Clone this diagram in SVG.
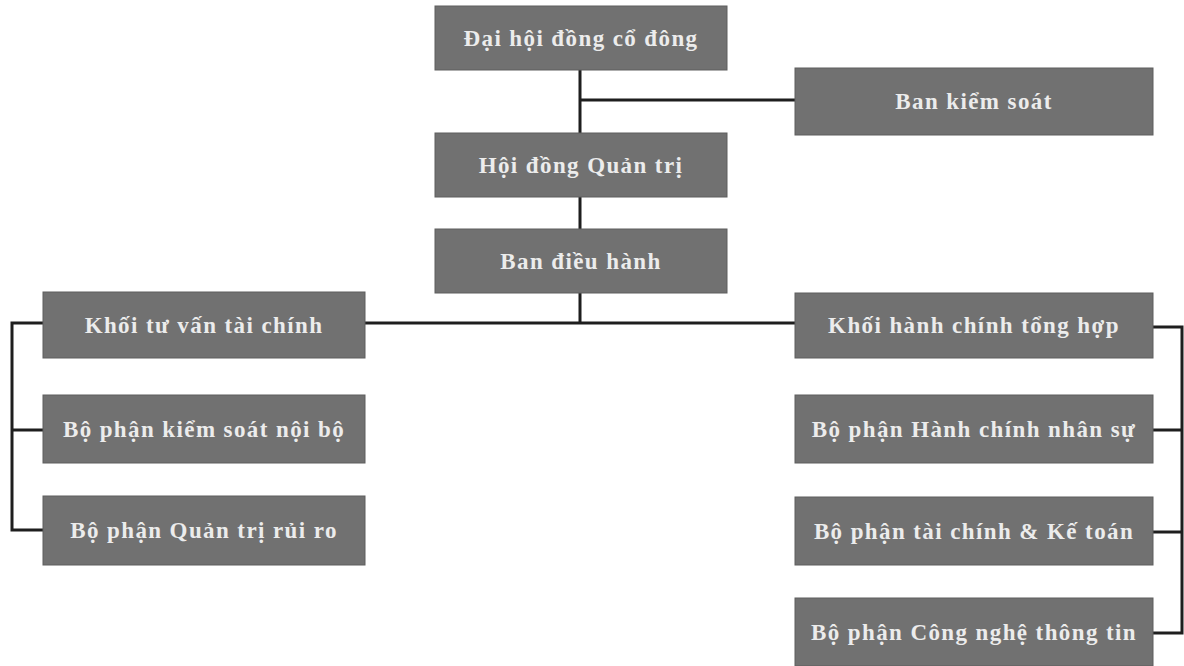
<svg xmlns="http://www.w3.org/2000/svg" width="1184" height="666" viewBox="0 0 1184 666">
<style>
.box{fill:#717171;stroke:#5e5e5e;stroke-width:1}
.lbl{font-family:"Liberation Serif","Times New Roman",serif;font-weight:bold;font-size:23px;fill:#ececec;text-anchor:middle;dominant-baseline:central;letter-spacing:1.4px}
.ln{stroke:#1e1e1e;stroke-width:3;fill:none}
</style>
<rect width="1184" height="666" fill="#ffffff"/>
<g id="connectors">
<path class="ln" d="M580 70V133M580 100H795M580 197V229M580 293V323M365 323H795"/>
<path class="ln" d="M43 323H12V530H43M12 430H43"/>
<path class="ln" d="M1153 327H1182V633H1153M1153 430H1182M1153 532H1182"/>
</g>
<g id="n1"><rect class="box" x="435" y="6" width="292" height="64"/><text class="lbl" x="581" y="38">Đại hội đồng cổ đông</text></g>
<g id="n2"><rect class="box" x="795" y="68" width="358" height="67"/><text class="lbl" x="974" y="101">Ban kiểm soát</text></g>
<g id="n3"><rect class="box" x="435" y="133" width="292" height="64"/><text class="lbl" x="581" y="165">Hội đồng Quản trị</text></g>
<g id="n4"><rect class="box" x="435" y="229" width="292" height="64"/><text class="lbl" x="581" y="261">Ban điều hành</text></g>
<g id="n5"><rect class="box" x="43" y="292" width="322" height="66"/><text class="lbl" x="204" y="325">Khối tư vấn tài chính</text></g>
<g id="n6"><rect class="box" x="43" y="395" width="322" height="68"/><text class="lbl" x="204" y="429">Bộ phận kiểm soát nội bộ</text></g>
<g id="n7"><rect class="box" x="43" y="496" width="322" height="69"/><text class="lbl" x="204" y="530">Bộ phận Quản trị rủi ro</text></g>
<g id="n8"><rect class="box" x="795" y="293" width="358" height="65"/><text class="lbl" x="974" y="325">Khối hành chính tổng hợp</text></g>
<g id="n9"><rect class="box" x="795" y="395" width="358" height="68"/><text class="lbl" x="974" y="429">Bộ phận Hành chính nhân sự</text></g>
<g id="n10"><rect class="box" x="795" y="497" width="358" height="68"/><text class="lbl" x="974" y="531">Bộ phận tài chính &amp; Kế toán</text></g>
<g id="n11"><rect class="box" x="795" y="598" width="358" height="68"/><text class="lbl" x="974" y="632">Bộ phận Công nghệ thông tin</text></g>
</svg>
